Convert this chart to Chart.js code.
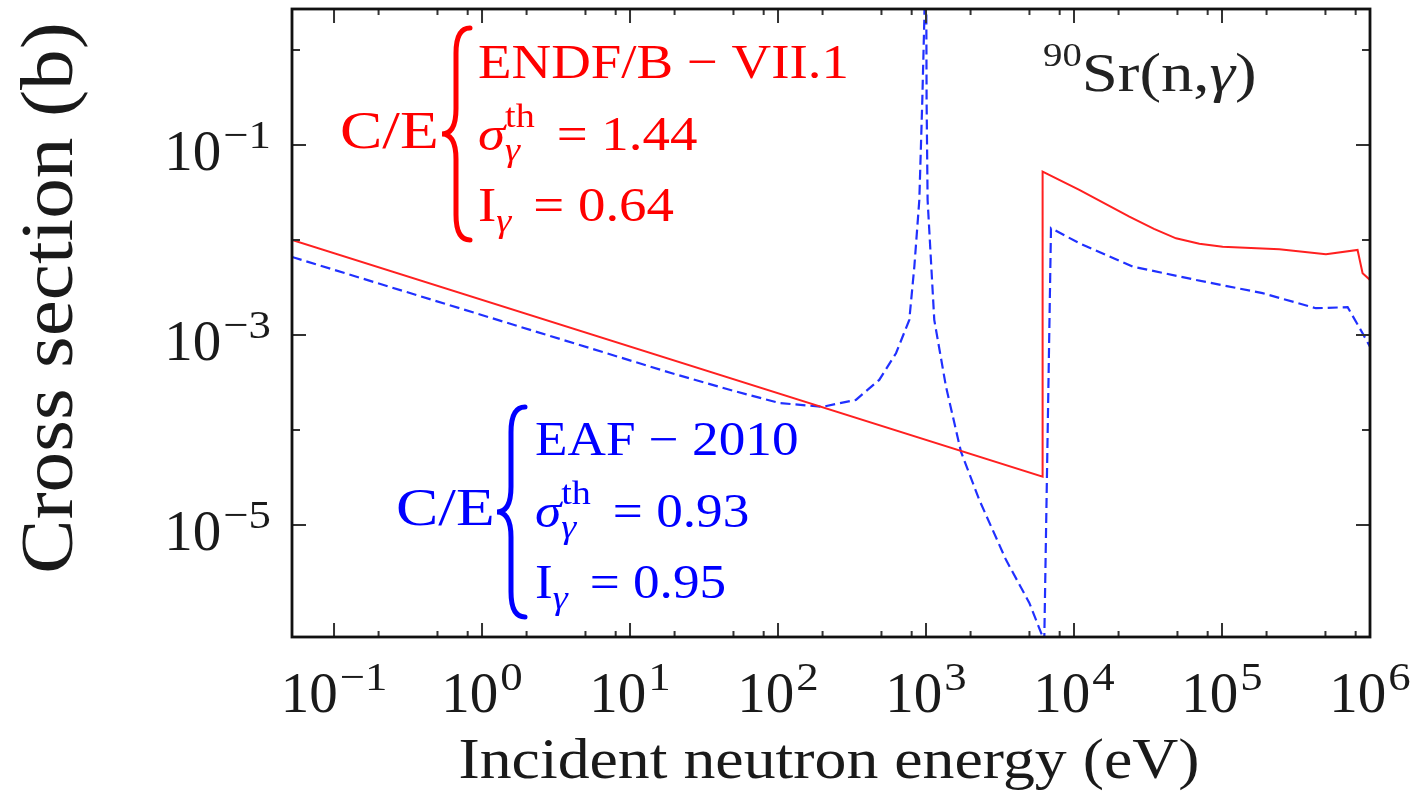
<!DOCTYPE html>
<html>
<head>
<meta charset="utf-8">
<script src="https://cdn.jsdelivr.net/npm/chart.js@4.4.0/dist/chart.umd.min.js"></script>
<style>
html,body{margin:0;padding:0;background:#fff;}
</style>
</head>
<body>
<canvas id="c" width="1417" height="792"></canvas>
<script>
// axis ranges (eV, barn)
const xMin = 0.052, xMax = 1.0e6;
const yMin = 6.6e-7, yMax = 2.70;

// decade ticks
const xTickExps = [-1, 0, 1, 2, 3, 4, 5, 6];
const xMinorMult = [2, 5, 8];
const yTickExps = [-1, -3, -5];
const yMinorExps = [0, -2, -4];

// ENDF/B-VII.1 (red, solid)
const redE  = [0.052, 6135, 6135, 10860, 23650, 34700, 48900, 70300, 101000, 244000, 504000, 824000, 891000, 1000000];
const redXS = [0.0100, 3.22e-5, 0.0524, 0.0336, 0.0176, 0.0131, 0.0104, 0.0091, 0.0085, 0.00798, 0.00707, 0.00785, 0.00446, 0.00379];

// EAF-2010 (blue, dashed)
const blueE  = [0.052, 19.2, 50, 102, 199.5, 336, 483, 627, 771, 834, 901, 944, 974, 1000,
                1009, 1025, 1137, 1364, 1722, 2291, 3472, 4989, 6295,
                6990, 10860, 24900, 66700, 188000, 431000, 706000, 891000, 1000000];
const blueXS = [0.00662, 3.95e-4, 2.58e-4, 1.92e-4, 1.75e-4, 2.07e-4, 3.36e-4, 6.41e-4, 1.44e-3, 5.24e-3, 0.0263, 0.298, 2.07, 30,
                0.298, 0.0263, 1.44e-3, 2.86e-4, 5.91e-5, 1.83e-5, 4.28e-6, 1.51e-6, 6.0e-7,
                0.0133, 0.00923, 0.00524, 0.00379, 0.00275, 0.00191, 0.00196, 0.00104, 7.53e-4];

const SERIF = '"Liberation Serif", "Times New Roman", serif';
function font(size, it){ return (it ? 'italic ' : '') + size + 'px ' + SERIF; }

// draw a run of text pieces on one baseline, returns width
function drawRun(ctx, pieces, x, y, color, sx, measureOnly){
    let cx = x;
    ctx.save();
    ctx.fillStyle = color; ctx.textAlign = 'left'; ctx.textBaseline = 'alphabetic';
    pieces.forEach(p=>{
        if(p.gap){ cx += p.gap; return; }
        let parts = p.stack || [p];
        let w = 0;
        parts.forEach(q=>{
            let qsx = sx * (q.sx || 1);
            ctx.font = font(q.size, q.it);
            let qw = ctx.measureText(q.t).width * qsx;
            if(!measureOnly){
                ctx.save(); ctx.translate(cx, y + (q.dy||0)); ctx.scale(qsx,1);
                ctx.fillText(q.t, 0, 0); ctx.restore();
            }
            w = Math.max(w, qw);
        });
        cx += w;
    });
    ctx.restore();
    return cx - x;
}

function powLabel(exp){
    let e = exp < 0 ? '\u2212' + (-exp) : '' + exp;
    return [{t:'10', size:57}, {gap:2}, {t:e, size:40, sx:1.12, dy:-22}];
}

function drawBrace(ctx, x, top, bot, w, color){
    let mid = (top+bot)/2, vx = x + w/2;
    ctx.save();
    ctx.strokeStyle = color; ctx.lineWidth = 5; ctx.lineCap = 'round';
    ctx.beginPath();
    ctx.moveTo(x+w, top);
    ctx.quadraticCurveTo(vx, top, vx, top + w*0.9);
    ctx.lineTo(vx, mid - w*0.9);
    ctx.quadraticCurveTo(vx, mid, x, mid);
    ctx.quadraticCurveTo(vx, mid, vx, mid + w*0.9);
    ctx.lineTo(vx, bot - w*0.9);
    ctx.quadraticCurveTo(vx, bot, x+w, bot);
    ctx.stroke();
    ctx.restore();
}

function drawBlock(ctx, color, x0, yBase, title, sig, ig, ceX, S){
    const s = 34, sx = 1.12;
    drawRun(ctx, [{t:'C/E', size:52}], ceX, yBase + 70, color, 1.22);
    drawRun(ctx, [{t:title, size:S}], x0, yBase, color, sx);
    drawRun(ctx, [{t:'\u03c3', size:S, it:true},
                  {stack:[{t:'th', size:s, dy:-23}, {t:'\u03b3', size:s, it:true, dy:11}]},
                  {gap:22}, {t:'= ' + sig, size:S}], x0, yBase + 72, color, sx);
    drawRun(ctx, [{t:'I', size:S}, {t:'\u03b3', size:s, it:true, dy:11},
                  {gap:22}, {t:'= ' + ig, size:S}], x0, yBase + 143, color, sx);
}

const decor = {
    id: 'decor',
    afterDatasetsDraw(chart){
        const ctx = chart.ctx, a = chart.chartArea;
        const xs = chart.scales.x, ys = chart.scales.y;
        ctx.save();
        // tick marks on all four sides
        ctx.strokeStyle = '#333'; ctx.lineWidth = 2;
        ctx.beginPath();
        xTickExps.forEach(e=>{
            let px = xs.getPixelForValue(Math.pow(10,e));
            ctx.moveTo(px, a.bottom); ctx.lineTo(px, a.bottom-14);
            ctx.moveTo(px, a.top); ctx.lineTo(px, a.top+14);
        });
        for(let e=-1; e<6; e++){
            xMinorMult.forEach(m=>{
                let px = xs.getPixelForValue(m*Math.pow(10,e));
                ctx.moveTo(px, a.bottom); ctx.lineTo(px, a.bottom-6);
                ctx.moveTo(px, a.top); ctx.lineTo(px, a.top+6);
            });
        }
        yTickExps.forEach(e=>{
            let py = ys.getPixelForValue(Math.pow(10,e));
            ctx.moveTo(a.left, py); ctx.lineTo(a.left+14, py);
            ctx.moveTo(a.right, py); ctx.lineTo(a.right-14, py);
        });
        yMinorExps.forEach(e=>{
            let py = ys.getPixelForValue(Math.pow(10,e));
            ctx.moveTo(a.left, py); ctx.lineTo(a.left+8, py);
            ctx.moveTo(a.right, py); ctx.lineTo(a.right-8, py);
        });
        ctx.stroke();
        // frame
        ctx.strokeStyle = '#111'; ctx.lineWidth = 2.8;
        ctx.strokeRect(a.left, a.top, a.right-a.left, a.bottom-a.top);

        // tick labels
        const ink = '#1a1a1a';
        xTickExps.forEach(e=>{
            let px = xs.getPixelForValue(Math.pow(10,e));
            let w = drawRun(ctx, powLabel(e), 0, 0, ink, 1, true);
            drawRun(ctx, powLabel(e), px - w/2, a.bottom + 75, ink, 1);
        });
        yTickExps.forEach(e=>{
            let py = ys.getPixelForValue(Math.pow(10,e));
            let w = drawRun(ctx, powLabel(e), 0, 0, ink, 1, true);
            drawRun(ctx, powLabel(e), a.left - 21 - w, py + 25, ink, 1);
        });

        // axis titles
        let xt = [{t:'Incident neutron energy (eV)', size:58}];
        let wx = drawRun(ctx, xt, 0, 0, ink, 1.1, true);
        drawRun(ctx, xt, 829 - wx/2, 778, ink, 1.1);
        let yt = [{t:'Cross section (b)', size:74}];
        let wy = drawRun(ctx, yt, 0, 0, ink, 1.1, true);
        ctx.save(); ctx.translate(72, 298); ctx.rotate(-Math.PI/2);
        drawRun(ctx, yt, -wy/2, 0, ink, 1.1);
        ctx.restore();

        // annotations
        drawBlock(ctx, '#ff0000', 478, 78, 'ENDF/B \u2212 VII.1', '1.44', '0.64', 340, 49);
        drawBrace(ctx, 442, 28, 240, 28, '#ff0000');
        drawBlock(ctx, '#0000ff', 535, 455, 'EAF \u2212 2010', '0.93', '0.95', 396, 47.5);
        drawBrace(ctx, 497, 407, 617, 28, '#0000ff');

        drawRun(ctx, [{t:'90', size:34, sx:0.95, dy:-25}, {t:'Sr(n,', size:54}, {t:'\u03b3', size:54, it:true}, {t:')', size:54}],
                1043, 91, '#222', 1.2);
        ctx.restore();
    }
};

new Chart(document.getElementById('c'), {
    type: 'line',
    data: {
        datasets: [
            { label: 'ENDF/B-VII.1', data: redE.map((e,i)=>({x:e, y:redXS[i]})),
              borderColor: '#ff2020', borderWidth: 2, pointRadius: 0, tension: 0 },
            { label: 'EAF-2010', data: blueE.map((e,i)=>({x:e, y:blueXS[i]})),
              borderColor: '#2030ff', borderWidth: 2.2, borderDash: [10,5], pointRadius: 0, tension: 0 }
        ]
    },
    options: {
        responsive: false,
        animation: false,
        devicePixelRatio: 1,
        layout: { padding: { left: 0, right: 47, top: 9, bottom: 0 } },
        plugins: { legend: { display: false }, tooltip: { enabled: false } },
        scales: {
            x: { type: 'logarithmic', min: xMin, max: xMax,
                 ticks: { display: false }, grid: { display: false }, border: { display: false },
                 afterFit: s => { s.height = 155; } },
            y: { type: 'logarithmic', min: yMin, max: yMax,
                 ticks: { display: false }, grid: { display: false }, border: { display: false },
                 afterFit: s => { s.width = 292; } }
        }
    },
    plugins: [decor]
});
</script>
</body>
</html>
